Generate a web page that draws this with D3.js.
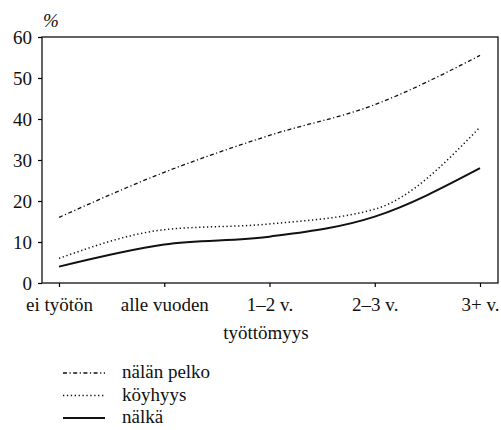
<!DOCTYPE html>
<html>
<head>
<script src="https://cdn.jsdelivr.net/npm/d3@7"></script>
</head>
<body style="margin:0">
<svg id="chart" width="501" height="430"></svg>
<script>
(function (d3) {
    'use strict';

    var categories = ['ei työtön', 'alle vuoden', '1–2 v.', '2–3 v.', '3+ v.'];
    var yTicks     = [0, 10, 20, 30, 40, 50, 60];

    var nalanPelko = [16, 27, 36, 43.5, 55.5];
    var koyhyys    = [6, 13, 14.4, 18, 38];
    var nalka      = [4, 9.4, 11.3, 16.2, 28];

    var series = [
        { name: 'nälän pelko', values: nalanPelko, dash: '4,2.5,1.2,2.5', width: 1.3 },
        { name: 'köyhyys',     values: koyhyys,    dash: '1.3,2.6',       width: 1.5 },
        { name: 'nälkä',       values: nalka,      dash: null,            width: 2 }
    ];

    var margin = { left: 42, right: 3, top: 37, bottom: 147 },
        width  = 501 - margin.left - margin.right,
        height = 430 - margin.top - margin.bottom;

    var svg = d3.select('#chart');
    var g = svg.append('g').attr('transform', 'translate(' + margin.left + ',' + margin.top + ')');

    var x = d3.scalePoint().domain(categories).range([17, 438]);
    var y = d3.scaleLinear().domain([0, 60]).range([height, 0]);

    function serif(sel) {
        sel.style('font-family', "'Liberation Serif'").attr('fill', '#111');
    }

    // frame
    g.append('rect')
        .attr('width', width).attr('height', height)
        .attr('fill', 'none').attr('stroke', '#111').attr('stroke-width', 1.3);

    var yAxis = g.append('g')
        .call(d3.axisLeft(y).tickValues(yTicks).tickSize(4).tickPadding(6));
    yAxis.select('.domain').remove();
    yAxis.selectAll('text').call(serif).attr('font-size', 19).attr('dy', '0.33em');
    yAxis.selectAll('line').attr('stroke-width', 1.2);

    var xAxis = g.append('g')
        .attr('transform', 'translate(0,' + height + ')')
        .call(d3.axisBottom(x).tickSize(4).tickPadding(11));
    xAxis.select('.domain').remove();
    xAxis.selectAll('text').call(serif).attr('font-size', 19);
    xAxis.selectAll('line').attr('stroke-width', 1.2);

    svg.append('text')
        .attr('x', 43).attr('y', 27)
        .call(serif)
        .attr('font-size', 19).attr('font-style', 'italic')
        .text('%');

    svg.append('text')
        .attr('x', 266).attr('y', 339)
        .call(serif)
        .attr('text-anchor', 'middle').attr('font-size', 19)
        .text('työttömyys');

    var line = d3.line()
        .x(function (d, i) { return x(categories[i]); })
        .y(function (d) { return y(d); })
        .curve(d3.curveMonotoneX);

    g.selectAll('.series')
        .data(series)
        .enter().append('path')
        .attr('class', 'series')
        .attr('d', function (d) { return line(d.values); })
        .attr('fill', 'none')
        .attr('stroke', '#111')
        .attr('stroke-width', function (d) { return d.width; })
        .attr('stroke-dasharray', function (d) { return d.dash; });

    // legend
    var legend = svg.append('g').attr('transform', 'translate(63,378)');
    var rows = legend.selectAll('g')
        .data(series)
        .enter().append('g')
        .attr('transform', function (d, i) { return 'translate(0,' + (i * 22.5) + ')'; });

    rows.append('line')
        .attr('x1', 0).attr('x2', 42)
        .attr('y1', -5).attr('y2', -5)
        .attr('stroke', '#111')
        .attr('stroke-width', function (d) { return d.width; })
        .attr('stroke-dasharray', function (d) { return d.dash; });

    rows.append('text')
        .attr('x', 59)
        .call(serif)
        .attr('font-size', 19)
        .text(function (d) { return d.name; });
}(window.d3));
</script>
</body>
</html>
